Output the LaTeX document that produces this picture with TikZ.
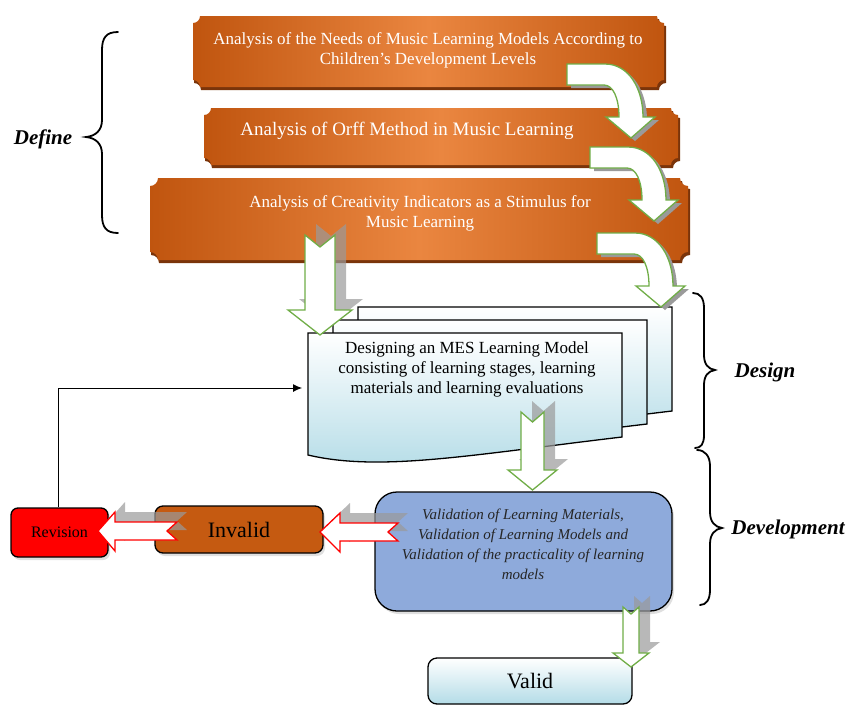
\documentclass[tikz,border=0pt]{standalone}
\usepackage{fontspec}
\setmainfont{Liberation Serif}
\usetikzlibrary{shadows,arrows.meta}
\definecolor{orD}{HTML}{C0550F}
\definecolor{orL}{HTML}{EA8640}
\definecolor{orS}{HTML}{7A340A}
\definecolor{grn}{HTML}{70AD47}
\definecolor{lblue}{HTML}{B4DCE7}
\definecolor{valblue}{HTML}{8EAADB}
\definecolor{invor}{HTML}{C55A11}
\definecolor{shgray}{HTML}{9A9A9A}
\newcommand\plaqpath[5]{(#1+#5,#2) -- (#3-#5,#2) arc(180:90:#5) -- (#3,#4-#5) arc(270:180:#5) -- (#1+#5,#4) arc(0:-90:#5) -- (#1,#2+#5) arc(90:0:#5) -- cycle}
\newcommand\carrpath{(0,0) -- (38,0) .. controls (62,0) and (76,25) .. (76,53) -- (88,53) -- (64,74) -- (39,53) -- (52,53) .. controls (52,34) and (46,21) .. (37,21) -- (0,21) -- cycle}
\newcommand\curvarr[2]{%
  \begin{scope}[shift={(#1,#2)}]
    \begin{scope}[shift={(4,3)}]\fill[shgray] \carrpath;\end{scope}
    \draw[garrow] \carrpath;
  \end{scope}}
\newcommand\dnarrpath[8]{(#1,#3) -- ({(#1+#2)/2},#3+#4) -- (#2,#3) -- (#2,#5) -- (#7,#5) -- ({(#1+#2)/2},#8) -- (#6,#5) -- (#1,#5) -- cycle}
\newcommand\dnarr[8]{%
  \begin{scope}[shift={(11,-11)}]\fill[shgray,opacity=0.7] \dnarrpath{#1}{#2}{#3}{#4}{#5}{#6}{#7}{#8};\end{scope}
  \draw[garrow] \dnarrpath{#1}{#2}{#3}{#4}{#5}{#6}{#7}{#8};}
\newcommand\lfarrpath[5]{(#1,#2) -- (#3,#2-19) -- (#3,#2-9) -- (#4,#2-9) -- (#5,#2) -- (#4,#2+9) -- (#3,#2+9) -- (#3,#2+20) -- cycle}
\newcommand\lfarr[5]{%
  \begin{scope}[shift={(10,-10)}]\fill[shgray,opacity=0.7] \lfarrpath{#1}{#2}{#3}{#4}{#5};\end{scope}
  \draw[rarrow] \lfarrpath{#1}{#2}{#3}{#4}{#5};}
\newcommand\docpath{(308,333) -- (622,333) -- (622,437) .. controls (470,455) and (380,472) .. (308,455) -- cycle}
\begin{document}
\begin{tikzpicture}[x=1pt,y=-1pt,
  garrow/.style={draw=grn, fill=white, line width=1.3pt, line join=miter},
  rarrow/.style={draw=red, fill=white, line width=1.3pt, line join=miter},
  otext/.style={text=white, align=center, inner sep=0pt},
  lbl/.style={font=\fontsize{21}{24}\selectfont\bfseries\itshape, inner sep=0pt},
  brace/.style={line width=1.8pt, line cap=round},
  docsty/.style={draw=black, line width=1.3pt, top color=white, bottom color=lblue},
  bshadow/.style={drop shadow={opacity=0.25, shadow xshift=2pt, shadow yshift=-3pt}}]
\useasboundingbox (0,0) rectangle (852,705);

% orange plaques
\fill[orS] \plaqpath{194}{19}{666}{90}{7};
\path[left color=orD,right color=orD,middle color=orL] \plaqpath{193}{16}{664}{87}{7};
\fill[orS] \plaqpath{205}{111}{680}{168}{7};
\path[left color=orD,right color=orD,middle color=orL] \plaqpath{204}{108}{678}{165}{7};
\fill[orS] \plaqpath{151}{181}{690}{263}{8};
\path[left color=orD,right color=orD,middle color=orL] \plaqpath{150}{178}{688}{260}{8};

\node[otext, font=\fontsize{17}{20}\selectfont] (t1) at (428,50) {Analysis of the Needs of Music Learning Models According to\\Children's Development Levels};
\node[otext, font=\fontsize{19}{22}\selectfont] (t2) at (407,131) {Analysis of Orff Method in Music Learning};
\node[otext, font=\fontsize{17}{20}\selectfont] (t3) at (420,213) {Analysis of Creativity Indicators as a Stimulus for\\Music Learning};

% multi-document
\begin{scope}[shift={(50,-26)}]\path[docsty] \docpath;\end{scope}
\begin{scope}[shift={(25,-13)}]\path[docsty] \docpath;\end{scope}
\path[docsty] \docpath;
\node[inner sep=0pt, align=center, font=\fontsize{17}{20}\selectfont] (design) at (467,369) {Designing an MES Learning Model\\consisting of learning stages, learning\\materials and learning evaluations};
\coordinate (desL) at (308,388);

% arrows in the upper part
\dnarr{305}{335}{235}{12}{310}{288}{352}{335}
\curvarr{567}{64}
\curvarr{590}{147}
\curvarr{597}{233}
\dnarr{521}{544}{412}{10}{470}{508}{557}{490}

% lower boxes
\node[draw=black, line width=1.3pt, fill=valblue, rounded corners=22pt, minimum width=297pt, minimum height=119pt, bshadow] (val) at (523.5,551.5) {};
\node[inner sep=0pt, align=center, text=black!85, font=\fontsize{15}{20}\selectfont\itshape] (valtext) at (523,544) {Validation of Learning Materials,\\Validation of Learning Models and\\Validation of the practicality of learning\\models};
\node[draw=black, line width=1.3pt, fill=invor, rounded corners=8pt, minimum width=168pt, minimum height=47pt, font=\fontsize{22}{24}\selectfont, bshadow] (inv) at (239,529.5) {Invalid};
\node[draw=black, line width=1.3pt, fill=red, rounded corners=7pt, minimum width=97pt, minimum height=49pt, font=\fontsize{16}{18}\selectfont, bshadow] (rev) at (59.5,532.5) {Revision};
\node[draw=black, line width=1.3pt, top color=white, bottom color=lblue, rounded corners=9pt, minimum width=204pt, minimum height=46pt, font=\fontsize{22}{24}\selectfont] (valid) at (530,681) {Valid};

\dnarr{623}{639}{607}{7}{653}{613}{649}{667}
\lfarr{320}{532}{340}{398}{388}
\lfarr{98}{531}{115}{177}{167}

% feedback connector
\draw[line width=0.9pt, -{Latex[length=9pt,width=8pt]}, shorten >=6pt] (rev.north -| 58,0) |- (desL);

% braces
\draw[brace] (118,32) .. controls (106,32) and (102,38) .. (102,50) -- (102,120) .. controls (102,130) and (96,136) .. (86,137) .. controls (96,138) and (102,144) .. (102,154) -- (102,215) .. controls (102,227) and (106,233) .. (118,233);
\draw[brace] (693,293) .. controls (700,293) and (704,298) .. (704,308) -- (704,355) .. controls (704,364) and (708,369) .. (715,370) .. controls (708,371) and (704,376) .. (704,385) -- (704,435) .. controls (704,444) and (701,448) .. (695,448);
\draw[brace] (697,450) .. controls (705,450) and (710,456) .. (710,466) -- (710,512) .. controls (710,522) and (715,527) .. (722,528) .. controls (715,529) and (710,534) .. (710,544) -- (710,590) .. controls (710,600) and (706,605) .. (700,605);
\node[lbl] (ldef) at (43,139) {Define};
\node[lbl] (ldes) at (765,372) {Design};
\node[lbl] (ldev) at (788,529) {Development};
\end{tikzpicture}
\end{document}
